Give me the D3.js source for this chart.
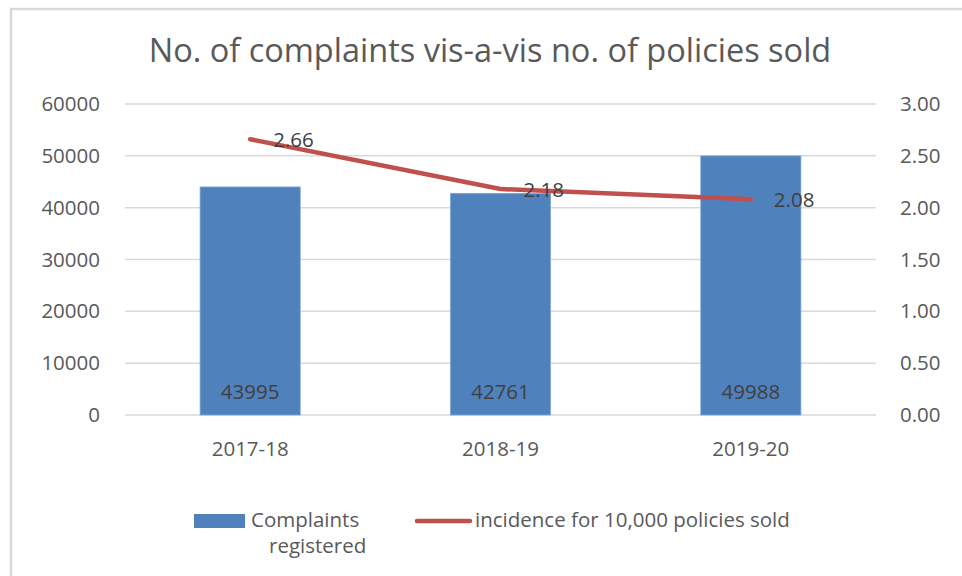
<!DOCTYPE html>
<html>
<head>
  <meta charset="UTF-8">
  <title>No. of complaints vis-a-vis no. of policies sold</title>
  <style>
    body { margin: 0; background: #fff; }
    svg { display: block; font-family: "Open Sans", sans-serif; }
  </style>
</head>
<body>
<svg></svg>
<script src="https://d3js.org/d3.v7.min.js"></script>
<script>

// data
let years = ["2017-18", "2018-19", "2019-20"];
let complaints = [43995, 42761, 49988];
let incidence = [2.66, 2.18, 2.08];
let leftTicks = [0, 10000, 20000, 30000, 40000, 50000, 60000];
let rightTicks = [0, 0.5, 1, 1.5, 2, 2.5, 3];

let width = 962,
    height = 576;

let fontSize = "20.5px";

let svg = d3.select("svg")
    .attr("width", width)
    .attr("height", height);

// chart frame
svg.append("rect")
    .attr("x", 11)
    .attr("y", 9)
    .attr("width", 980)
    .attr("height", 600)
    .attr("fill", "#fff")
    .attr("stroke", "#d9d9d9")
    .attr("stroke-width", 2.5);

let plotLeft = 125, plotRight = 876, plotTop = 104, plotBottom = 415;

let x = d3.scaleBand()
    .domain(years)
    .range([plotLeft, plotRight])
    .paddingInner(0.6)
    .paddingOuter(0.3);

let yL = d3.scaleLinear().domain([0, 60000]).range([plotBottom, plotTop]);
let yR = d3.scaleLinear().domain([0, 3]).range([plotBottom, plotTop]);

// title
svg.append("text")
    .attr("x", 490)
    .attr("y", 62)
    .attr("text-anchor", "middle")
    .attr("fill", "#595959")
    .style("font-size", "32.5px")
    .text("No. of complaints vis-a-vis no. of policies sold");

// gridlines
svg.append("g")
    .selectAll("line")
    .data(leftTicks)
    .enter()
    .append("line")
    .attr("x1", plotLeft)
    .attr("x2", plotRight)
    .attr("y1", d => yL(d))
    .attr("y2", d => yL(d))
    .attr("stroke", "#d9d9d9")
    .attr("stroke-width", 1.5);

// left axis
let axisL = svg.append("g")
    .attr("transform", "translate(" + (plotLeft - 25) + ",0)")
    .call(d3.axisLeft(yL).tickValues(leftTicks).tickFormat(d3.format("d")).tickSize(0).tickPadding(0));
axisL.select(".domain").remove();
axisL.selectAll("text")
    .attr("fill", "#595959")
    .style("font-size", fontSize)
    .style("font-family", "'Open Sans', sans-serif");

// right axis
let axisR = svg.append("g")
    .attr("transform", "translate(" + (plotRight + 24) + ",0)")
    .call(d3.axisRight(yR).tickValues(rightTicks).tickFormat(d3.format(".2f")).tickSize(0).tickPadding(0));
axisR.select(".domain").remove();
axisR.selectAll("text")
    .attr("fill", "#595959")
    .style("font-size", fontSize)
    .style("font-family", "'Open Sans', sans-serif");

// x axis labels
let axisX = svg.append("g")
    .attr("transform", "translate(0," + (plotBottom + 26) + ")")
    .call(d3.axisBottom(x).tickSize(0).tickPadding(0));
axisX.select(".domain").remove();
axisX.selectAll("text")
    .attr("fill", "#595959")
    .style("font-size", fontSize)
    .style("font-family", "'Open Sans', sans-serif");

// bars
svg.append("g")
    .selectAll("rect")
    .data(complaints)
    .enter()
    .append("rect")
    .attr("x", (d, i) => x(years[i]))
    .attr("y", d => yL(d))
    .attr("width", x.bandwidth())
    .attr("height", d => yL(0) - yL(d))
    .attr("fill", "#4f81bd")
    .attr("stroke", "#7ea6d6")
    .attr("stroke-width", 0.8);

svg.append("g")
    .selectAll("text")
    .data(complaints)
    .enter()
    .append("text")
    .attr("x", (d, i) => x(years[i]) + x.bandwidth() / 2)
    .attr("y", yL(0) - 16)
    .attr("text-anchor", "middle")
    .attr("fill", "#404040")
    .style("font-size", fontSize)
    .text(d => d);

// line
let line = d3.line()
    .x((d, i) => x(years[i]) + x.bandwidth() / 2)
    .y(d => yR(d));

svg.append("path")
    .datum(incidence)
    .attr("d", line)
    .attr("fill", "none")
    .attr("stroke", "#c0504d")
    .attr("stroke-width", 4.5)
    .attr("stroke-linecap", "round")
    .attr("stroke-linejoin", "round");

svg.append("g")
    .selectAll("text")
    .data(incidence)
    .enter()
    .append("text")
    .attr("x", (d, i) => x(years[i]) + x.bandwidth() / 2 + 23)
    .attr("y", d => yR(d) + 8)
    .attr("fill", "#404040")
    .style("font-size", fontSize)
    .text(d => d3.format(".2f")(d));

// legend
let legend = svg.append("g");
legend.append("rect")
    .attr("x", 194)
    .attr("y", 514)
    .attr("width", 51)
    .attr("height", 14)
    .attr("fill", "#4f81bd");
legend.append("text")
    .attr("x", 251)
    .attr("y", 527)
    .attr("fill", "#595959")
    .style("font-size", fontSize)
    .text("Complaints");
legend.append("text")
    .attr("x", 269)
    .attr("y", 553)
    .attr("fill", "#595959")
    .style("font-size", fontSize)
    .text("registered");
legend.append("line")
    .attr("x1", 417)
    .attr("x2", 470)
    .attr("y1", 521)
    .attr("y2", 521)
    .attr("stroke", "#c0504d")
    .attr("stroke-width", 4.5)
    .attr("stroke-linecap", "round");
legend.append("text")
    .attr("x", 475)
    .attr("y", 527)
    .attr("fill", "#595959")
    .style("font-size", fontSize)
    .text("incidence for 10,000 policies sold");

</script>
</body>
</html>
